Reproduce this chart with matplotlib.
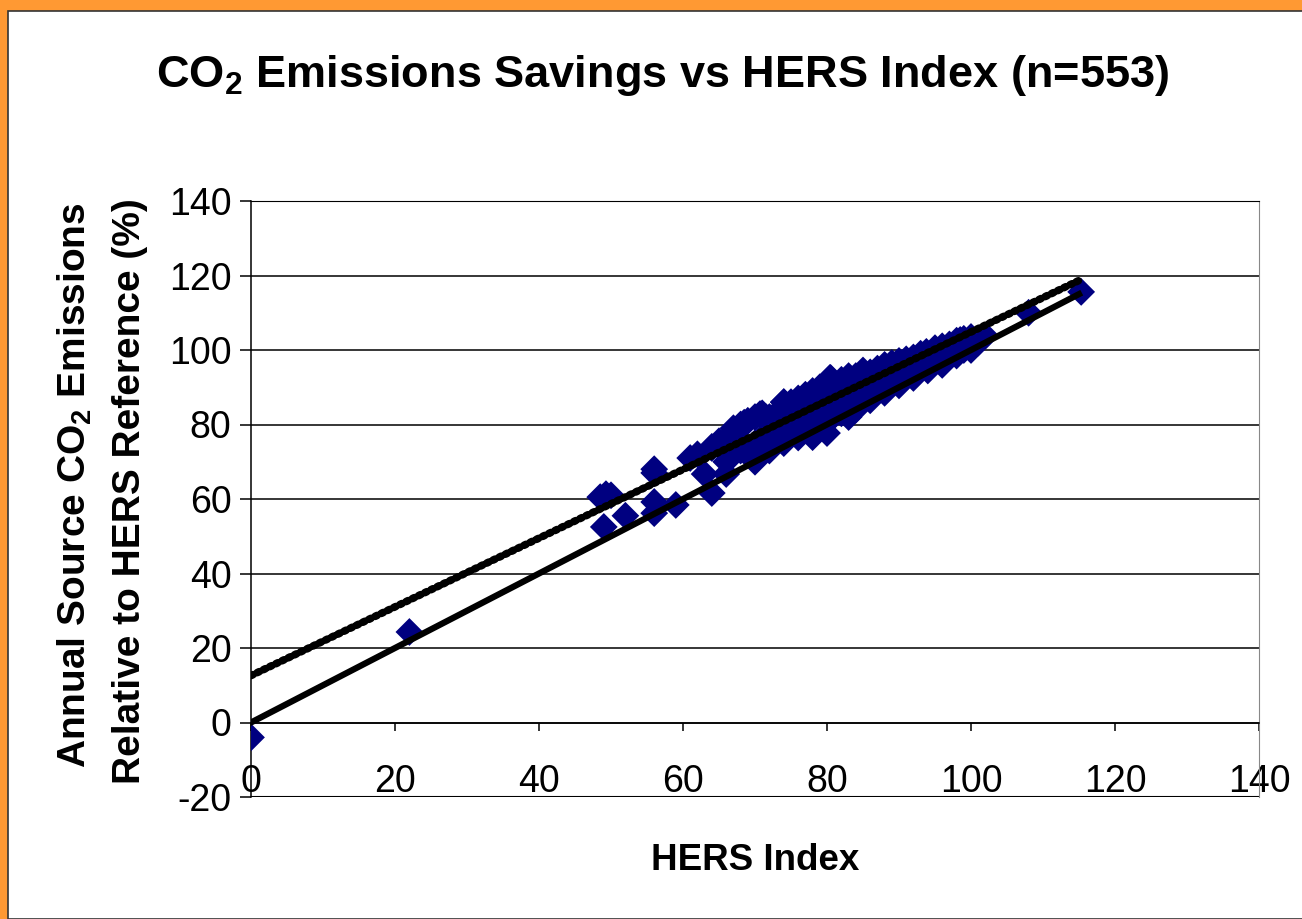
import matplotlib
matplotlib.use("Agg")
import matplotlib.pyplot as plt
from matplotlib.patches import Rectangle

plt.rcParams['font.family'] = ['Liberation Sans', 'DejaVu Sans']
plt.rcParams['mathtext.fontset'] = 'custom'
plt.rcParams['mathtext.rm'] = 'Liberation Sans'
plt.rcParams['mathtext.bf'] = 'Liberation Sans:bold'
plt.rcParams['axes.unicode_minus'] = False

# HERS index vs annual source CO2 emissions relative to reference (%)
hers_index = [
    0, 22,
    48.5, 49.3, 50, 49, 52, 56, 56, 56, 56, 59, 61, 63, 64, 66, 64, 65,
    67, 68, 67, 68, 70.4, 70, 71, 70.7, 71.5, 75, 75, 74, 78, 80, 78,
    80.4, 84, 90, 93.8, 98.5, 102, 108, 115.3,
    62, 64, 65, 66, 67, 68, 68.5, 69, 70, 71, 72, 73, 74, 75, 75.5, 76,
    77, 78, 79, 80, 80.5, 81, 82, 83, 84, 85, 86, 87, 88, 89, 90, 91, 92,
    93, 95, 96, 97, 98, 99, 100,
    66, 68, 70, 71, 72, 73, 74, 75, 76, 77, 78, 79, 80, 81, 82, 83, 84,
    85, 86, 87, 88, 89, 90, 91, 92, 93, 94, 95, 96, 97, 98, 99, 100, 101,
    70, 72, 74, 76, 78, 80, 82, 84, 86, 88, 90, 92, 94, 96, 98, 100,
    81, 82.5, 83, 79.5, 87, 89,
]
co2_pct = [
    -4, 24.3,
    60.5, 61.3, 61, 52.5, 55.5, 68, 67, 59.2, 56.2, 58.4, 71, 66.7, 61.6,
    66.7, 73.7, 75, 79, 80, 76, 74, 74, 70, 76.6, 82.8, 82, 78.5, 85, 86,
    76.6, 77.7, 86.6, 92.5, 84, 97, 99.5, 102.7, 103.8, 110, 115.6,
    72, 74, 75.5, 74, 78, 79, 80.5, 81, 82, 83, 82, 83, 86, 86, 85, 87,
    88, 89, 90, 91, 92.5, 91, 92, 93, 93, 94.5, 94, 95, 96, 96.5, 97,
    97.5, 98, 99, 100.5, 101, 101.5, 102.5, 103, 103.5,
    70, 73, 75, 74, 77, 78, 79, 80, 81, 81.5, 83, 84, 85, 86, 86, 87, 88,
    89, 89.5, 90, 91, 92, 92.5, 93, 94, 95, 96, 97, 97.5, 98.5, 99, 100,
    101, 102,
    71, 73, 75, 76.5, 79, 80.5, 83, 84.5, 86.5, 88.5, 90.5, 92.5, 94.5,
    96, 98.5, 100,
    82.5, 84, 82, 86, 89, 91,
]

slope, intercept = 0.9224, 12.593
line_x = [0, 115]

fig = plt.figure(figsize=(13.02, 9.19), dpi=100)
fig.patch.set_facecolor('#FF9933')
fig.patches.append(Rectangle((8 / 1302, 0), 1.0, 1 - 11 / 919,
                             transform=fig.transFigure, facecolor='white',
                             edgecolor='#333333', linewidth=1.2, zorder=-10))

ax = fig.add_axes([251 / 1302, 1 - 797 / 919, (1259 - 251) / 1302, (797 - 201) / 919])
ax.set_zorder(5)
ax.set_facecolor('white')

ax.scatter(hers_index, co2_pct, marker='D', s=200, color='#000080',
           edgecolors='none', zorder=3)
# Excel-style trendline: thick, beaded
ax.plot(line_x, [slope * v + intercept for v in line_x], color='black',
        lw=5.5, linestyle=(0, (0.3, 0.6)), dash_capstyle='round', zorder=4)
ax.plot(line_x, line_x, color='black', lw=4.5, zorder=4)

ax.set_xlim(0, 140)
ax.set_ylim(-20, 140)
ax.set_xticks(range(0, 141, 20))
ax.set_yticks(range(-20, 141, 20))
ax.yaxis.grid(True, color='black', lw=1.1)
ax.set_axisbelow(True)

ax.spines['bottom'].set_position(('data', 0))
ax.spines['top'].set_color('black')
ax.spines['right'].set_color('#888888')
for s in ['left', 'bottom']:
    ax.spines[s].set_color('black')
    ax.spines[s].set_linewidth(1.1)
ax.axhline(-20, color='black', lw=1.5, zorder=1)

ax.tick_params(axis='y', direction='out', length=8, width=1.1, pad=6, labelsize=27)
ax.tick_params(axis='x', direction='out', length=6, width=1.1, pad=24, labelsize=27)

fig.text(0.509, 0.918, r'CO$_\mathbf{2}$ Emissions Savings vs HERS Index (n=553)',
         ha='center', va='center', fontsize=32.5, fontweight='bold')
fig.text(75 / 1302, 0.472, r'Annual Source CO$_\mathbf{2}$ Emissions',
         rotation=90, ha='center', va='center', fontsize=28, fontweight='bold')
fig.text(130 / 1302, 0.466, 'Relative to HERS Reference (%)',
         rotation=90, ha='center', va='center', fontsize=28, fontweight='bold')
fig.text(0.58, 0.064, 'HERS Index', ha='center', va='center',
         fontsize=26.5, fontweight='bold')

fig.text(263 / 1302, 1 - 397 / 919, 'y = 0.9224x + 12.593', ha='left',
         va='center', fontsize=27)
fig.text(345 / 1302, 1 - 447 / 919, r'R$^2$ = 0.9187', ha='left',
         va='center', fontsize=27)

fig.savefig('out.png', dpi=100, facecolor=fig.get_facecolor())
